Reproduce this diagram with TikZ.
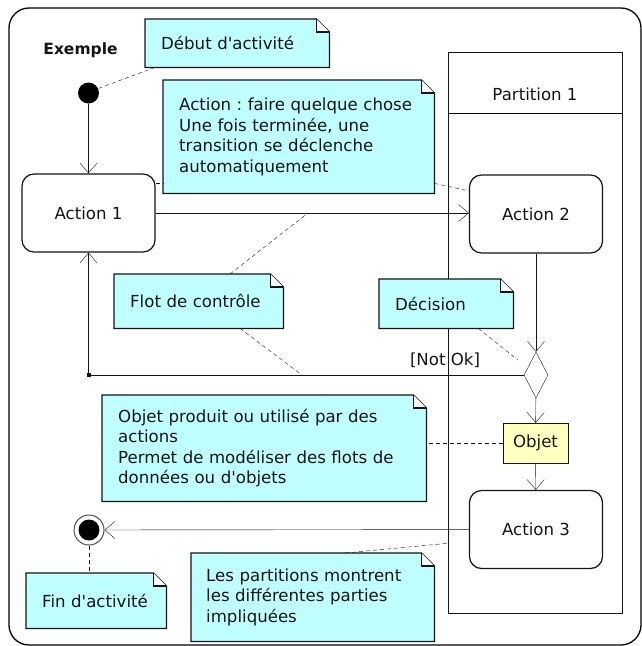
\documentclass[tikz,border=0pt]{standalone}
\usepackage{fontspec}
\setmainfont{DejaVu Sans}[Ligatures=TeXOff]
\usetikzlibrary{arrows.meta,shapes.geometric}
\definecolor{notefill}{RGB}{192,255,255}
\definecolor{objfill}{RGB}{255,255,192}
\definecolor{ink}{RGB}{20,20,20}
\pgfdeclarelayer{back}
\pgfdeclarelayer{notebg}
\pgfsetlayers{back,notebg,main}
\frenchspacing
\newcommand\drawfold[1]{%
  \begin{pgfonlayer}{notebg}
    \filldraw[notebody] (#1.north west) -- ([xshift=-13pt]#1.north east) -- ([yshift=-13pt]#1.north east) -- (#1.south east) -- (#1.south west) -- cycle;
    \filldraw[notebody,fill=white] ([xshift=-13pt]#1.north east) -- ([xshift=-13pt,yshift=-13pt]#1.north east) -- ([yshift=-13pt]#1.north east);
  \end{pgfonlayer}}
\begin{document}
\begin{tikzpicture}[x=1pt,y=-1pt,line width=1.25pt,color=ink,
  every node/.style={font=\fontsize{16.6pt}{20.5pt}\selectfont,text=ink},
  flow/.style={draw=ink,-{Straight Barb[length=10pt,width=17pt]}},
  link/.style={draw=ink,dash pattern=on 4pt off 3pt},
  notebody/.style={draw=ink,fill=notefill,line width=1.25pt},
  note/.style={anchor=north west,inner xsep=16pt,inner ysep=0pt,align=left,minimum height=#1},
  action/.style={draw=ink,line width=1.25pt,rounded corners=12pt,minimum width=133pt,minimum height=78pt,inner sep=0pt}]
\useasboundingbox (0,0) rectangle (642,646);
\begin{pgfonlayer}{back}
  \draw[rounded corners=20pt,line width=1.3pt] (9,8) rectangle (641,645);
  \node[draw=ink,line width=1.25pt,anchor=north west,minimum width=174pt,minimum height=561pt,inner sep=0pt] (part) at (448,52) {};
  \draw ([yshift=-61pt]part.north west) -- ([yshift=-61pt]part.north east);
\end{pgfonlayer}
\node (ptitle) at (535,94) {Partition 1};
\node[font=\bfseries\fontsize{15.5pt}{18pt}\selectfont] (title) at (80.5,50) {Exemple};

\node[circle,fill=black,minimum size=21pt,inner sep=0pt] (init) at (88.5,93) {};
\node[action] (a1) at (88.5,213) {Action 1};
\node[action] (a2) at (536,214) {Action 2};
\node[action] (a3) at (536,529.5) {Action 3};
\node[diamond,draw=ink,minimum width=24pt,minimum height=46pt,inner sep=0pt] (dec) at (536,375) {};
\node[draw=ink,fill=objfill,minimum width=65pt,minimum height=40pt,inner sep=0pt] (obj) at (535.5,443) {Objet};
\node[circle,draw=ink!75,line width=1pt,minimum size=30pt,inner sep=0pt,
  path picture={\fill[black] (path picture bounding box.center) circle (10.5pt);}] (fin) at (89,530) {};

\draw[flow] (init) -- (a1);
\draw[flow] (a1.east) -- (a1.east -| a2.west);
\draw[flow] (a2) -- (dec);
\draw[flow] (dec) -- (obj);
\draw[flow] (obj) -- (a3);
\coordinate (corner) at (88.5,375);
\draw[flow] (dec.west) -- (corner) -- (a1.south);
\fill[ink] ([shift={(-2pt,-2pt)}]corner) rectangle ([shift={(2pt,2pt)}]corner);
\node (notok) at (445,360) {[Not Ok]};
\draw[flow] (a3) -- (fin);

\node[note=48pt,text width=152pt] (n1) at (145,19) {Début d'activité};
\node[note=113pt,text width=239pt] (n2) at (163,80) {Action : faire quelque chose\\Une fois terminée, une\\transition se déclenche\\automatiquement};
\node[note=54pt,text width=137pt] (n3) at (114,274) {Flot de contrôle};
\node[note=49pt,text width=102pt] (n4) at (379,279) {Décision};
\node[note=106pt,text width=292pt] (n5) at (102,395) {Objet produit ou utilisé par des\\actions\\Permet de modéliser des flots de\\données ou d'objets};
\node[note=55pt,text width=108pt] (n6) at (26,573) {Fin d'activité};
\node[note=88pt,text width=213pt,inner xsep=15pt] (n7) at (191,553) {Les partitions montrent\\les différentes parties\\impliquées};
\drawfold{n1}\drawfold{n2}\drawfold{n3}\drawfold{n4}\drawfold{n5}\drawfold{n6}\drawfold{n7}

\draw[link] ([xshift=10pt]n1.south west) -- (init.25);
\draw[link] ([yshift=30pt]a1.east) -- ([yshift=30pt]a1.east -| n2.west);
\draw[link] ([yshift=10pt]n2.south east) -- (a2.161.5);
\coordinate (f1) at (308,213);
\draw[link] ([xshift=116pt]n3.north west) -- (f1);
\coordinate (f2) at (302,375);
\draw[link] ([xshift=126pt]n3.south west) -- (f2);
\draw[link] ([xshift=-35pt]n4.south east) -- ([shift={(-6pt,15pt)}]dec.west);
\draw[link] (obj.west) -- (obj.west -| n5.east);
\draw[link] (fin.south) -- (fin.south |- n6.north);
\draw[link] ([xshift=154pt]n7.north west) -- ([yshift=71pt]part.south west);
\end{tikzpicture}
\end{document}
